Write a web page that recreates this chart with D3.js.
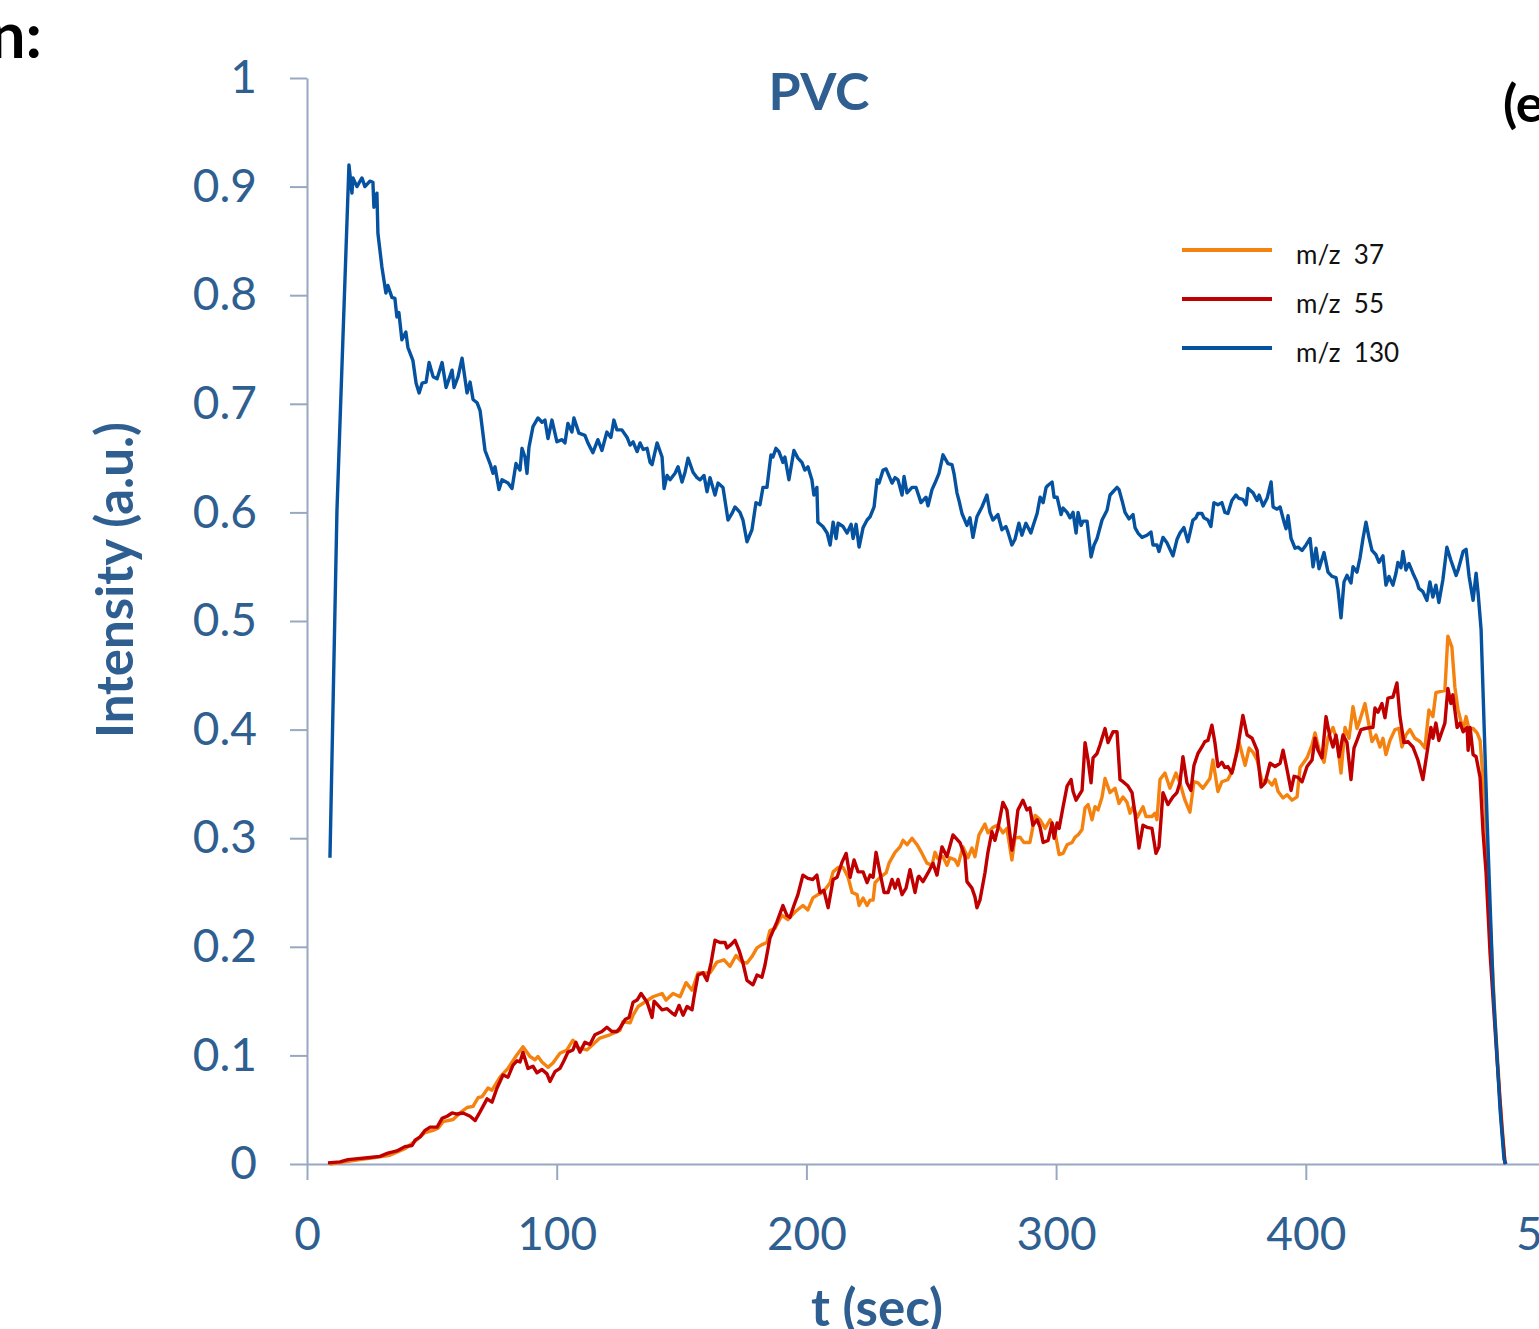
<!DOCTYPE html>
<html>
<head>
<meta charset="utf-8">
<script src="https://cdn.jsdelivr.net/npm/d3@7"></script>
<style>
body { margin: 0; background: #fff; overflow: hidden; }
svg { display: block; font-family: Lato, "Open Sans", sans-serif; }
</style>
</head>
<body>
<script>
window.onload = function(){

let width = 1539,
	height = 1329;

// m/z 130 (blue)
let t130 = [9.2,12.0,16.8,18.0,18.4,20.0,22.0,23.2,25.2,26.4,26.8,28.0,28.4,30.0,31.6,32.4,34.0,35.2,36.0,36.8,38.0,39.6,40.4,42.4,43.7,44.9,46.1,47.7,48.9,50.5,52.1,54.1,55.7,58.1,58.9,60.5,62.1,64.1,65.3,66.5,68.1,69.3,71.3,73.3,74.5,75.3,76.9,78.1,80.5,82.1,83.7,85.3,86.1,87.3,88.1,88.9,90.5,92.5,94.1,95.3,96.5,98.1,100.1,102.1,103.3,104.5,106.1,106.9,108.9,111.3,112.5,114.5,116.5,118.1,120.1,121.7,122.9,124.1,126.1,128.2,129.4,130.6,132.2,133.4,134.6,136.2,137.4,138.2,140.2,142.2,143.0,144.2,145.4,147.4,148.6,150.2,151.4,152.6,154.6,156.2,157.4,159.0,160.2,161.4,163.4,164.6,166.6,168.6,170.2,171.4,173.4,174.6,176.2,178.2,179.8,181.4,182.6,184.2,185.8,186.6,187.8,189.0,190.6,191.4,193.0,195.0,196.6,198.2,199.4,200.6,202.2,203.0,204.2,204.6,206.6,208.3,209.5,210.7,211.9,212.7,214.7,216.3,217.9,218.7,219.9,221.1,222.7,224.3,225.5,227.1,228.3,229.1,230.7,231.9,234.3,235.5,236.7,238.3,239.1,240.3,242.3,243.9,245.9,247.9,248.7,250.3,251.5,253.1,254.7,256.7,258.3,259.1,260.3,261.1,262.3,264.3,265.5,266.7,268.3,270.3,272.3,273.5,274.7,276.7,278.3,279.9,280.7,282.3,283.5,285.1,286.3,287.9,289.9,290.7,292.4,293.6,294.8,296.0,296.8,298.4,299.2,300.4,302.0,302.8,304.4,305.6,306.8,308.0,308.8,310.0,310.8,312.4,314.0,315.2,316.4,318.4,320.4,321.6,322.8,324.4,325.2,326.4,327.6,329.2,330.8,331.6,332.8,334.4,336.4,338.0,338.8,340.4,341.2,342.8,344.4,346.8,348.4,349.6,351.2,352.8,354.8,356.0,356.8,358.4,359.2,360.8,362.0,363.2,364.8,366.4,367.6,368.8,370.4,372.0,373.2,374.8,376.1,376.9,378.9,380.5,381.3,382.9,384.5,386.1,386.9,388.5,389.7,391.3,392.1,392.9,394.1,395.7,396.9,398.5,400.1,401.7,402.9,404.1,405.3,407.3,408.9,410.5,412.1,412.9,414.1,415.3,416.5,418.1,418.9,420.5,421.7,422.9,424.1,425.3,426.5,428.1,429.3,430.9,432.1,433.3,434.9,436.1,436.9,438.1,438.9,440.1,441.3,442.9,444.5,445.3,446.9,448.5,449.7,450.9,452.1,453.3,454.9,456.5,458.1,460.2,461.0,463.0,464.2,465.4,467.0,468.2,469.0,470.2,472.6,475.0,477.8,479.4,480.2];
let v130 = [0.282,0.602,0.920,0.894,0.908,0.900,0.908,0.900,0.905,0.904,0.881,0.894,0.857,0.826,0.802,0.809,0.798,0.797,0.780,0.784,0.759,0.766,0.752,0.740,0.719,0.710,0.719,0.720,0.738,0.725,0.723,0.738,0.715,0.731,0.715,0.725,0.742,0.710,0.720,0.704,0.701,0.694,0.657,0.645,0.636,0.642,0.621,0.630,0.627,0.622,0.645,0.639,0.659,0.651,0.636,0.660,0.679,0.687,0.683,0.685,0.668,0.685,0.665,0.667,0.664,0.682,0.674,0.687,0.673,0.671,0.664,0.655,0.667,0.657,0.674,0.669,0.685,0.676,0.676,0.669,0.662,0.665,0.656,0.664,0.658,0.659,0.646,0.644,0.664,0.651,0.622,0.634,0.630,0.636,0.642,0.628,0.637,0.650,0.637,0.632,0.630,0.634,0.619,0.632,0.616,0.627,0.623,0.593,0.599,0.605,0.600,0.593,0.573,0.584,0.609,0.607,0.623,0.623,0.653,0.651,0.659,0.656,0.646,0.651,0.630,0.657,0.650,0.646,0.639,0.642,0.630,0.616,0.623,0.591,0.587,0.581,0.570,0.591,0.576,0.590,0.587,0.581,0.589,0.576,0.589,0.568,0.586,0.593,0.596,0.605,0.630,0.627,0.639,0.640,0.627,0.632,0.630,0.616,0.633,0.618,0.623,0.623,0.609,0.614,0.606,0.621,0.627,0.636,0.653,0.645,0.644,0.636,0.618,0.611,0.599,0.588,0.595,0.577,0.596,0.605,0.616,0.600,0.593,0.598,0.584,0.587,0.582,0.570,0.575,0.590,0.579,0.590,0.581,0.587,0.599,0.614,0.609,0.623,0.625,0.628,0.614,0.614,0.598,0.604,0.600,0.595,0.600,0.581,0.600,0.588,0.592,0.592,0.559,0.570,0.576,0.593,0.602,0.616,0.619,0.623,0.621,0.611,0.600,0.594,0.598,0.586,0.581,0.577,0.579,0.582,0.570,0.570,0.564,0.577,0.572,0.560,0.575,0.581,0.586,0.573,0.593,0.595,0.599,0.599,0.595,0.593,0.587,0.609,0.607,0.609,0.600,0.599,0.611,0.616,0.613,0.612,0.607,0.622,0.618,0.611,0.616,0.606,0.613,0.628,0.605,0.603,0.605,0.591,0.585,0.597,0.576,0.567,0.568,0.565,0.570,0.576,0.550,0.567,0.548,0.563,0.545,0.541,0.540,0.529,0.503,0.536,0.542,0.535,0.550,0.545,0.558,0.576,0.591,0.577,0.565,0.561,0.554,0.560,0.533,0.541,0.533,0.544,0.554,0.549,0.564,0.547,0.553,0.544,0.536,0.530,0.527,0.519,0.536,0.522,0.533,0.517,0.538,0.568,0.556,0.542,0.547,0.564,0.566,0.541,0.519,0.544,0.526,0.492,0.317,0.163,0.050,0.004,0];

// m/z 55 (red)
let t55 = [8.4,13.2,16.4,20.4,25.2,29.2,32.4,36.0,39.2,42.1,43.3,45.3,47.3,49.3,52.1,54.1,56.1,58.1,60.1,62.5,65.3,67.3,69.3,72.1,74.1,76.1,78.5,80.5,82.5,84.1,85.3,86.5,88.5,90.5,92.1,94.1,96.1,97.3,99.3,101.3,102.9,104.5,106.5,107.7,109.3,111.3,113.3,115.3,118.1,120.1,122.1,124.1,125.3,127.4,129.0,130.6,132.2,133.8,136.2,138.2,139.0,140.6,142.2,144.2,146.2,147.4,149.0,150.6,152.2,154.2,155.0,156.6,158.6,160.2,161.8,163.4,165.4,167.4,168.2,169.8,171.4,173.0,174.6,176.2,178.6,180.2,182.2,183.4,185.4,188.2,190.6,192.2,193.4,195.0,196.6,198.6,200.6,202.6,204.2,205.4,207.0,208.7,210.7,212.3,214.3,215.9,217.5,219.1,220.7,222.7,224.3,225.5,226.7,227.9,229.5,231.1,232.7,234.3,235.5,236.7,238.3,239.9,241.5,243.5,244.7,245.1,246.7,248.7,250.7,252.3,254.3,256.3,258.7,261.5,263.5,264.3,266.3,267.5,268.3,269.5,271.5,272.7,274.3,275.5,276.7,278.7,280.3,282.3,283.5,284.7,286.7,288.3,289.5,290.7,292.4,293.6,294.8,296.8,298.4,299.2,300.4,301.2,302.8,304.4,306.0,306.8,308.0,310.4,311.6,312.8,314.0,314.8,316.4,317.6,319.6,320.8,322.8,324.4,325.6,326.8,328.8,330.4,331.6,333.2,334.8,336.4,338.4,340.0,341.2,342.8,344.8,346.8,348.4,349.6,350.8,352.4,354.0,355.2,356.8,358.4,359.6,360.8,362.4,363.6,364.8,366.4,367.6,368.8,370.4,372.4,374.8,376.5,378.5,380.5,382.1,383.7,385.7,387.7,389.7,390.9,392.5,394.1,395.3,396.9,398.5,400.5,402.5,403.7,404.9,406.5,408.1,409.7,410.9,412.1,413.3,414.9,416.5,418.1,419.3,420.5,422.1,423.7,426.1,426.9,427.7,428.9,430.5,431.7,432.9,434.9,436.5,437.7,439.3,440.9,442.9,444.9,446.9,448.5,450.1,450.9,452.1,453.3,454.5,455.7,456.9,458.1,458.9,460.6,461.8,463.0,464.6,465.0,465.8,467.0,468.2,469.8,471.0,472.2,473.8,476.6,478.6,479.8];
let v55 = [0.001,0.002,0.004,0.005,0.006,0.007,0.010,0.012,0.016,0.017,0.022,0.025,0.031,0.034,0.034,0.042,0.044,0.047,0.046,0.047,0.044,0.040,0.048,0.060,0.057,0.070,0.082,0.080,0.091,0.095,0.094,0.103,0.088,0.090,0.084,0.087,0.083,0.076,0.085,0.088,0.095,0.103,0.105,0.112,0.103,0.112,0.110,0.119,0.122,0.126,0.122,0.122,0.125,0.133,0.135,0.149,0.151,0.157,0.149,0.135,0.150,0.146,0.142,0.143,0.139,0.137,0.146,0.137,0.145,0.142,0.154,0.174,0.176,0.169,0.185,0.206,0.204,0.204,0.199,0.202,0.206,0.197,0.185,0.169,0.165,0.174,0.172,0.183,0.208,0.223,0.238,0.229,0.227,0.238,0.248,0.266,0.263,0.262,0.266,0.250,0.252,0.236,0.262,0.264,0.278,0.286,0.264,0.280,0.269,0.269,0.259,0.266,0.264,0.287,0.268,0.250,0.250,0.262,0.254,0.262,0.248,0.254,0.271,0.250,0.264,0.265,0.260,0.268,0.277,0.266,0.292,0.283,0.303,0.296,0.283,0.260,0.254,0.246,0.236,0.243,0.268,0.287,0.306,0.298,0.309,0.333,0.326,0.289,0.303,0.326,0.335,0.326,0.328,0.312,0.317,0.310,0.296,0.298,0.314,0.300,0.314,0.309,0.329,0.348,0.354,0.343,0.335,0.344,0.388,0.372,0.351,0.374,0.378,0.386,0.401,0.388,0.398,0.398,0.354,0.352,0.348,0.342,0.323,0.291,0.312,0.310,0.309,0.286,0.292,0.342,0.331,0.338,0.342,0.351,0.375,0.351,0.344,0.367,0.378,0.384,0.389,0.390,0.404,0.388,0.366,0.370,0.365,0.366,0.360,0.379,0.413,0.395,0.392,0.381,0.347,0.351,0.369,0.366,0.369,0.381,0.363,0.344,0.357,0.356,0.352,0.366,0.372,0.392,0.381,0.374,0.412,0.393,0.384,0.395,0.375,0.395,0.388,0.354,0.383,0.390,0.400,0.401,0.402,0.402,0.420,0.416,0.424,0.411,0.429,0.430,0.443,0.412,0.388,0.389,0.384,0.372,0.354,0.378,0.402,0.392,0.406,0.390,0.398,0.406,0.438,0.424,0.432,0.402,0.406,0.398,0.402,0.381,0.402,0.377,0.375,0.356,0.305,0.268,0.194,0.096,0.031,0];

// m/z 37 (orange)
let t37 = [9.2,15.2,21.2,27.2,33.2,39.2,43.3,47.3,50.5,52.5,54.5,58.5,61.3,64.1,66.5,68.5,70.1,72.5,74.1,77.3,80.5,83.3,86.5,89.3,91.3,92.5,94.1,96.5,98.5,101.3,104.1,106.5,108.5,112.1,114.5,117.3,121.3,125.3,126.5,129.4,130.6,132.6,134.6,138.6,142.2,143.8,146.6,149.4,151.8,154.2,156.6,159.4,161.4,164.2,167.0,169.4,171.8,174.2,176.2,178.2,180.2,182.2,184.2,185.4,187.4,190.2,192.6,195.4,198.6,200.6,202.6,204.6,206.6,209.5,210.7,212.7,214.7,216.7,218.3,220.3,221.1,222.7,224.3,225.5,226.7,227.5,229.5,231.9,233.1,235.5,237.5,238.7,240.3,242.3,244.3,246.3,248.3,250.3,251.5,252.7,254.7,256.3,257.5,259.5,260.7,262.7,264.7,266.3,267.5,269.1,271.5,272.7,274.7,276.7,278.7,280.3,282.3,283.5,285.5,287.1,289.5,291.6,293.6,295.6,297.6,299.2,301.2,302.8,304.4,306.4,307.6,308.8,310.4,311.6,312.8,314.4,315.6,316.8,318.4,319.6,321.6,323.6,325.2,326.8,328.4,329.6,330.8,332.4,334.8,336.0,338.4,339.6,340.4,341.6,343.6,345.6,348.0,349.6,351.6,353.6,355.2,356.8,358.8,361.6,362.8,364.8,366.4,368.8,370.8,373.2,375.7,377.3,378.9,380.5,382.5,384.5,386.5,387.7,388.9,390.9,392.5,394.5,396.5,397.7,400.5,402.5,403.7,405.7,407.3,408.9,410.9,412.5,414.1,415.7,417.3,418.9,420.5,421.7,423.7,424.9,426.5,428.1,429.7,430.9,432.1,433.7,435.7,437.3,438.5,440.1,441.7,443.7,445.7,447.7,449.3,450.9,452.1,453.7,455.7,456.9,458.5,459.7,461.0,463.0,464.2,465.4,467.0,468.6,469.8,471.8,473.8,475.8,477.8,479.8];
let v37 = [0,0.002,0.004,0.006,0.008,0.014,0.021,0.029,0.031,0.033,0.039,0.041,0.047,0.052,0.053,0.061,0.062,0.070,0.068,0.080,0.088,0.098,0.108,0.099,0.096,0.099,0.094,0.089,0.093,0.102,0.105,0.114,0.107,0.105,0.110,0.116,0.119,0.123,0.131,0.130,0.137,0.145,0.148,0.154,0.157,0.151,0.157,0.154,0.167,0.160,0.176,0.176,0.176,0.186,0.188,0.182,0.192,0.186,0.185,0.191,0.199,0.202,0.204,0.215,0.217,0.229,0.225,0.232,0.238,0.234,0.245,0.248,0.250,0.259,0.269,0.273,0.273,0.264,0.250,0.248,0.238,0.245,0.238,0.243,0.243,0.259,0.264,0.268,0.277,0.287,0.292,0.298,0.294,0.300,0.294,0.286,0.277,0.275,0.287,0.281,0.283,0.275,0.282,0.280,0.275,0.292,0.282,0.291,0.283,0.303,0.313,0.305,0.310,0.312,0.305,0.309,0.280,0.300,0.301,0.296,0.296,0.321,0.317,0.309,0.317,0.310,0.285,0.286,0.294,0.296,0.301,0.303,0.308,0.328,0.331,0.317,0.329,0.326,0.338,0.355,0.342,0.346,0.332,0.338,0.333,0.323,0.329,0.319,0.329,0.320,0.320,0.323,0.317,0.354,0.360,0.346,0.360,0.351,0.335,0.324,0.352,0.351,0.346,0.355,0.372,0.343,0.352,0.354,0.363,0.389,0.367,0.383,0.379,0.372,0.352,0.354,0.349,0.354,0.343,0.337,0.340,0.335,0.338,0.365,0.374,0.386,0.397,0.378,0.370,0.393,0.402,0.390,0.360,0.402,0.392,0.421,0.401,0.409,0.424,0.409,0.389,0.395,0.384,0.392,0.377,0.390,0.400,0.401,0.384,0.395,0.400,0.392,0.389,0.383,0.418,0.412,0.434,0.435,0.436,0.486,0.476,0.439,0.418,0.400,0.412,0.400,0.401,0.397,0.390,0.329,0.225,0.133,0.059,0];

let xTicks = [0,100,200,300,400,500];
let yTicks = [0,0.1,0.2,0.3,0.4,0.5,0.6,0.7,0.8,0.9,1];
let seriesNames = ["m/z  37","m/z  55","m/z  130"];
let colors = ["#f5820f","#c00000","#0552a0"];

let blue = "#2f5f91",
	axisColor = "#98a8c2";

let svg = d3.select("body").append("svg").attr("width",width).attr("height",height);

let x = d3.scaleLinear().domain([0,500]).range([307,1555.5]);
let y = d3.scaleLinear().domain([0,1]).range([1164,78]);

let xAxis = svg.append("g")
	.attr("transform","translate(0,1164)")
	.call(d3.axisBottom(x).tickValues(xTicks).tickFormat(d3.format("d")).tickSize(16).tickSizeOuter(0).tickPadding(37));

let yAxis = svg.append("g")
	.attr("transform","translate(307,0)")
	.call(d3.axisLeft(y).tickValues(yTicks).tickFormat(d => d === 0 || d === 1 ? d : d3.format(".1f")(d)).tickSize(17).tickSizeOuter(0).tickPadding(33));

svg.selectAll(".domain, .tick line").attr("stroke",axisColor).attr("stroke-width",2);
svg.selectAll(".tick text").attr("fill",blue).style("font-size","46px").style("font-family","Lato, sans-serif");

let line = d3.line()
	.x(d => x(d[0]))
	.y(d => y(d[1]));

let series = [d3.zip(t37,v37), d3.zip(t55,v55), d3.zip(t130,v130)];

series.forEach(function(s,i){
	svg.append("path")
		.datum(s)
		.attr("fill","none")
		.attr("stroke",colors[i])
		.attr("stroke-width",3.4)
		.attr("stroke-linejoin","round")
		.attr("d",line);
});

// legend
let legend = svg.append("g").attr("transform","translate(1182,250)");
seriesNames.forEach(function(n,i){
	legend.append("line")
		.attr("x1",0).attr("x2",90)
		.attr("y1",i*49).attr("y2",i*49)
		.attr("stroke",colors[i]).attr("stroke-width",4);
	legend.append("text")
		.attr("x",114).attr("y",i*49+14)
		.style("font-size","26px")
		.style("white-space","pre")
		.attr("fill","#111")
		.text(n);
});

// titles
svg.append("text")
	.attr("x",819).attr("y",110)
	.attr("text-anchor","middle")
	.attr("fill",blue)
	.style("font-size","52px").style("font-weight","bold")
	.text("PVC");

svg.append("text")
	.attr("transform","translate(133,580) rotate(-90)")
	.attr("text-anchor","middle")
	.attr("fill",blue)
	.style("font-size","51px").style("font-weight","bold")
	.text("Intensity (a.u.)");

svg.append("text")
	.attr("x",877).attr("y",1326)
	.attr("text-anchor","middle")
	.attr("fill",blue)
	.style("font-size","51px").style("font-weight","bold")
	.text("t (sec)");

svg.append("text")
	.attr("x",42).attr("y",58)
	.attr("text-anchor","end")
	.attr("fill","#000")
	.style("font-size","64px").style("font-weight","bold")
	.text("n:");

svg.append("text")
	.attr("x",1503).attr("y",122)
	.attr("fill","#000")
	.style("font-size","52px").style("font-weight","bold")
	.text("(e)");

};
</script>
</body>
</html>
